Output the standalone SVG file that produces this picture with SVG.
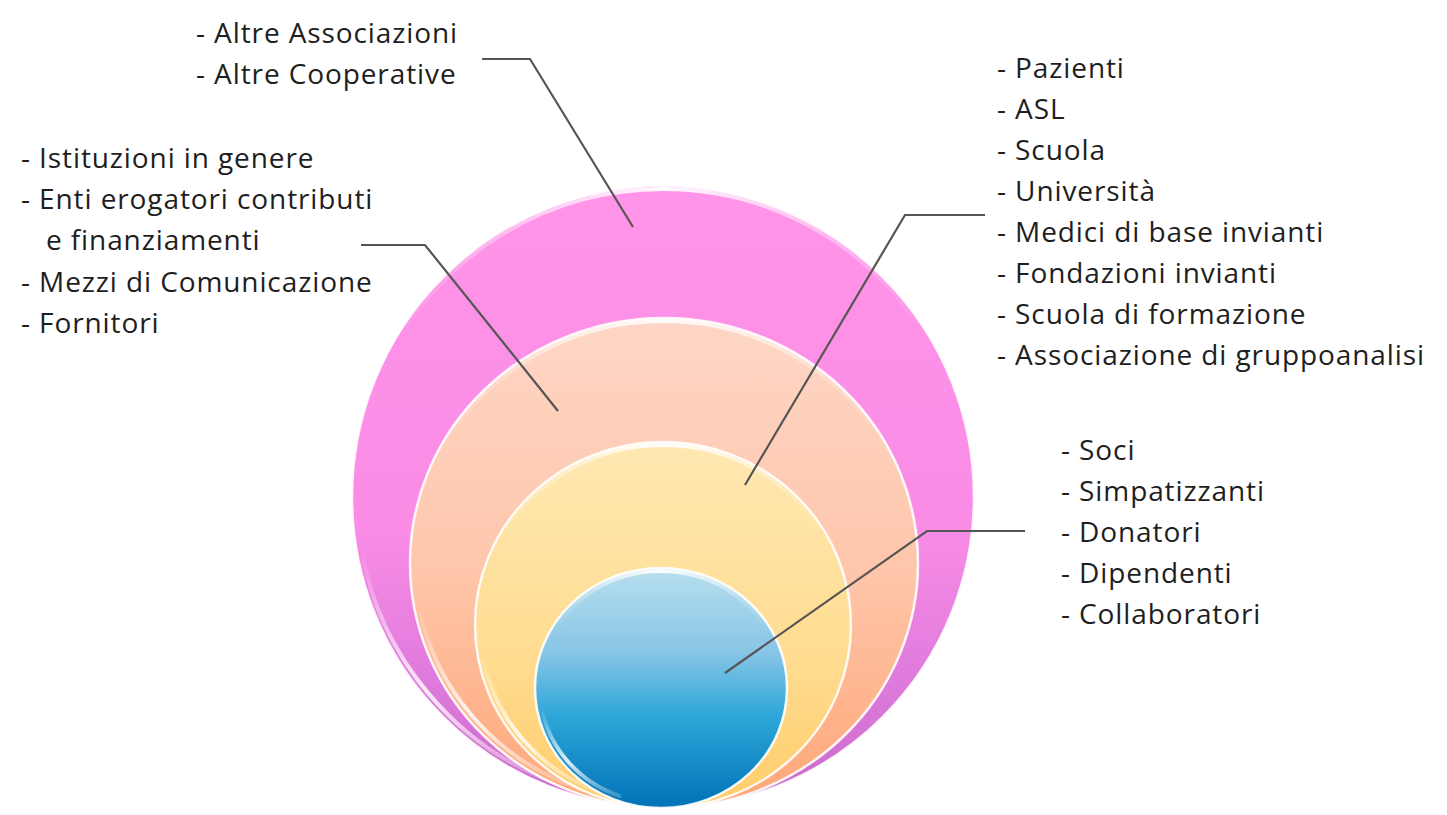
<svg xmlns="http://www.w3.org/2000/svg" width="1447" height="815" viewBox="0 0 1447 815">
  <style>
    .lbl { font-family: "Open Sans", "Liberation Sans", sans-serif; font-size: 28px; letter-spacing: 0.9px; fill: #1e1e1e; }
    .conn { fill: none; stroke: #555555; stroke-width: 2.2; stroke-linejoin: miter; }
    .rim { fill: none; stroke: #ffffff; stroke-width: 2.5; stroke-opacity: 0.9; }
    .hl { fill: none; stroke-width: 4; stroke-linecap: round; }
  </style>
  <defs>
    <linearGradient id="gPink" x1="0" y1="0" x2="0" y2="1">
      <stop offset="0" stop-color="#ff94e8"/>
      <stop offset="0.55" stop-color="#fa8ce6"/>
      <stop offset="0.8" stop-color="#de7adc"/>
      <stop offset="1" stop-color="#c868c8"/>
    </linearGradient>
    <linearGradient id="gPeach" x1="0" y1="0" x2="0" y2="1">
      <stop offset="0" stop-color="#fed6c6"/>
      <stop offset="0.5" stop-color="#fec7ac"/>
      <stop offset="1" stop-color="#ffa676"/>
    </linearGradient>
    <linearGradient id="gYellow" x1="0" y1="0" x2="0" y2="1">
      <stop offset="0" stop-color="#ffe8b2"/>
      <stop offset="0.6" stop-color="#ffdc90"/>
      <stop offset="1" stop-color="#ffcc6a"/>
    </linearGradient>
    <linearGradient id="gBlue" x1="0" y1="0" x2="0" y2="1">
      <stop offset="0" stop-color="#b8dfee"/>
      <stop offset="0.35" stop-color="#88c5e6"/>
      <stop offset="0.62" stop-color="#2ca6d8"/>
      <stop offset="1" stop-color="#0072b6"/>
    </linearGradient>
    <linearGradient id="gTop" x1="0" y1="0" x2="1" y2="0">
      <stop offset="0" stop-color="#ffffff" stop-opacity="0"/>
      <stop offset="0.5" stop-color="#ffffff" stop-opacity="0.95"/>
      <stop offset="1" stop-color="#ffffff" stop-opacity="0"/>
    </linearGradient>
    <linearGradient id="gLow" x1="0" y1="0" x2="0" y2="1">
      <stop offset="0" stop-color="#ffffff" stop-opacity="0"/>
      <stop offset="0.6" stop-color="#ffffff" stop-opacity="0.85"/>
      <stop offset="1" stop-color="#ffffff" stop-opacity="0.2"/>
    </linearGradient>
  </defs>
  <rect width="1447" height="815" fill="#ffffff"/>

  <g id="ring-outer">
    <circle cx="663" cy="497" r="311" fill="url(#gPink)"/>
    <circle class="rim" cx="663" cy="497" r="311"/>
    <path class="hl" stroke="url(#gTop)" d="M396.3,343 A308,308 0 0,1 929.7,343"/>
    <path class="hl" stroke="url(#gLow)" d="M361.6,550.1 A306,306 0 0,0 558.3,784.5"/>
  </g>
  <g id="ring-middle">
    <ellipse cx="664" cy="563" rx="254" ry="245" fill="url(#gPeach)"/>
    <ellipse class="rim" cx="664" cy="563" rx="254" ry="245"/>
    <path class="hl" stroke="url(#gTop)" d="M446.6,442 A251,242 0 0,1 881.4,442"/>
    <path class="hl" stroke="url(#gLow)" d="M418.8,604.7 A249,240 0 0,0 578.8,788.5"/>
  </g>
  <g id="ring-inner">
    <ellipse cx="663" cy="625" rx="188" ry="183" fill="url(#gYellow)"/>
    <ellipse class="rim" cx="663" cy="625" rx="188" ry="183"/>
    <path class="hl" stroke="url(#gTop)" d="M502.8,535 A185,180 0 0,1 823.2,535"/>
    <path class="hl" stroke="url(#gLow)" d="M482.8,655.9 A183,178 0 0,0 600.4,792.3"/>
  </g>
  <g id="core">
    <ellipse cx="661" cy="688" rx="126" ry="120" fill="url(#gBlue)"/>
    <ellipse class="rim" cx="661" cy="688" rx="126" ry="120"/>
    <path class="hl" stroke="url(#gTop)" d="M554.5,629.5 A123,117 0 0,1 767.5,629.5"/>
    <path class="hl" stroke="url(#gLow)" d="M541.8,708 A121,115 0 0,0 619.6,796.1"/>
  </g>

  <g id="connectors">
    <polyline class="conn" points="482,59 530,59 633,227"/>
    <polyline class="conn" points="361,245 425,245 558,411"/>
    <polyline class="conn" points="985,215 905,215 745,485"/>
    <polyline class="conn" points="1025,531 927,531 725,673"/>
  </g>

  <g id="label-outer">
    <text class="lbl" x="196" y="43">- Altre Associazioni</text>
    <text class="lbl" x="196" y="84">- Altre Cooperative</text>
  </g>
  <g id="label-middle">
    <text class="lbl" x="21" y="168">- Istituzioni in genere</text>
    <text class="lbl" x="21" y="209">- Enti erogatori contributi</text>
    <text class="lbl" x="46" y="250">e finanziamenti</text>
    <text class="lbl" x="21" y="292">- Mezzi di Comunicazione</text>
    <text class="lbl" x="21" y="333">- Fornitori</text>
  </g>
  <g id="label-inner">
    <text class="lbl" x="997" y="78">- Pazienti</text>
    <text class="lbl" x="997" y="119">- ASL</text>
    <text class="lbl" x="997" y="160">- Scuola</text>
    <text class="lbl" x="997" y="201">- Università</text>
    <text class="lbl" x="997" y="242">- Medici di base invianti</text>
    <text class="lbl" x="997" y="283">- Fondazioni invianti</text>
    <text class="lbl" x="997" y="324">- Scuola di formazione</text>
    <text class="lbl" x="997" y="365">- Associazione di gruppoanalisi</text>
  </g>
  <g id="label-core">
    <text class="lbl" x="1061" y="460">- Soci</text>
    <text class="lbl" x="1061" y="501">- Simpatizzanti</text>
    <text class="lbl" x="1061" y="542">- Donatori</text>
    <text class="lbl" x="1061" y="583">- Dipendenti</text>
    <text class="lbl" x="1061" y="624">- Collaboratori</text>
  </g>
</svg>
